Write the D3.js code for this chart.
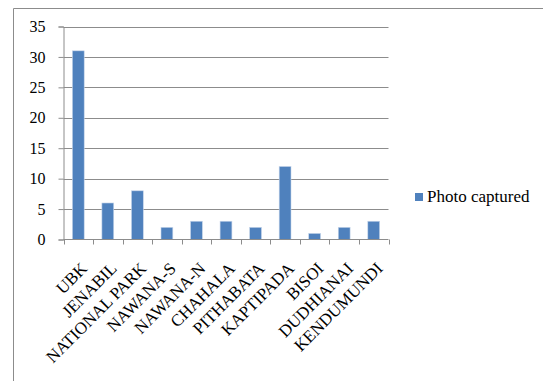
<!DOCTYPE html>
<html lang="en">
<head>
    <meta charset="UTF-8">
    <title>Photo captured</title>
    <script src="https://d3js.org/d3.v7.min.js"></script>
    <style>
        body { margin: 0; background: #fff; }
        .grid line { stroke: #8c8c8c; stroke-width: 1; }
        .axis path, .axis line { stroke: #8c8c8c; }
    </style>
</head>
<body>
    <script>
        var categories = ["UBK", "JENABIL", "NATIONAL PARK", "NAWANA-S", "NAWANA-N", "CHAHALA",
            "PITHABATA", "KAPTIPADA", "BISOI", "DUDHIANAI", "KENDUMUNDI"];
        var photoCaptured = [31, 6, 8, 2, 3, 3, 2, 12, 1, 2, 3];
        var yTicks = [0, 5, 10, 15, 20, 25, 30, 35];
        var seriesName = "Photo captured";

        var serif = "'Liberation Serif', 'Times New Roman', serif";

        var svg = d3.select("body").append("svg")
            .attr("width", 543).attr("height", 381);

        // outer chart frame
        svg.append("path")
            .attr("d", "M13.5,381 V8.5 H543")
            .attr("fill", "none").attr("stroke", "#8c8c8c");

        var plotLeft = 63.5, plotRight = 388.5, plotTop = 26.5, plotBottom = 239.5;

        var x = d3.scaleBand().domain(categories).range([plotLeft, plotRight]).paddingInner(0.6).paddingOuter(0.3);
        var xBounds = d3.scaleLinear().domain([0, categories.length]).range([plotLeft, plotRight]);
        var y = d3.scaleLinear().domain([0, 35]).range([plotBottom, plotTop]);

        // gridlines
        svg.append("g").attr("class", "grid")
            .selectAll("line").data(yTicks.filter(function(d) { return d > 0; }))
            .enter().append("line")
            .attr("x1", plotLeft).attr("x2", plotRight)
            .attr("y1", function(d) { return Math.round(y(d)) + 0.5; })
            .attr("y2", function(d) { return Math.round(y(d)) + 0.5; });

        // y axis
        var yAxis = svg.append("g").attr("class", "axis")
            .attr("transform", "translate(" + plotLeft + ",0)")
            .call(d3.axisLeft(y).tickValues(yTicks).tickSize(5).tickPadding(13));
        yAxis.selectAll("text")
            .style("font-family", serif)
            .style("font-size", "16px")
            .attr("fill", "#000");

        // bars
        svg.append("g").selectAll("rect").data(photoCaptured)
            .enter().append("rect")
            .attr("x", function(d, i) { return x(categories[i]); })
            .attr("width", x.bandwidth())
            .attr("y", function(d) { return y(d); })
            .attr("height", function(d) { return plotBottom - y(d); })
            .attr("fill", "#4f81bd")
            .attr("stroke", "#c6d5ea").attr("stroke-width", 0.6);

        // x axis line and ticks at category boundaries
        var xa = svg.append("g").attr("class", "axis");
        xa.append("line").attr("x1", plotLeft).attr("x2", plotRight)
            .attr("y1", plotBottom).attr("y2", plotBottom);
        xa.selectAll(".tk").data(d3.range(categories.length + 1))
            .enter().append("line")
            .attr("x1", function(d) { return Math.round(xBounds(d)) + 0.5; })
            .attr("x2", function(d) { return Math.round(xBounds(d)) + 0.5; })
            .attr("y1", plotBottom).attr("y2", plotBottom + 5);

        // rotated category labels
        svg.append("g").selectAll("text").data(categories)
            .enter().append("text")
            .attr("transform", function(d) {
                var cx = x(d) + x.bandwidth() / 2 + 10;
                return "translate(" + cx + "," + (plotBottom + 30) + ") rotate(-45)";
            })
            .attr("text-anchor", "end")
            .style("font-family", serif)
            .style("font-size", "17px")
            .text(function(d) { return d; });

        // legend
        var lg = svg.append("g").attr("transform", "translate(415,193)");
        lg.append("rect").attr("width", 8).attr("height", 8)
            .attr("fill", "#4f81bd");
        lg.append("text").attr("x", 12).attr("y", 9)
            .style("font-family", serif)
            .style("font-size", "17px").text(seriesName);
    </script>
</body>
</html>
